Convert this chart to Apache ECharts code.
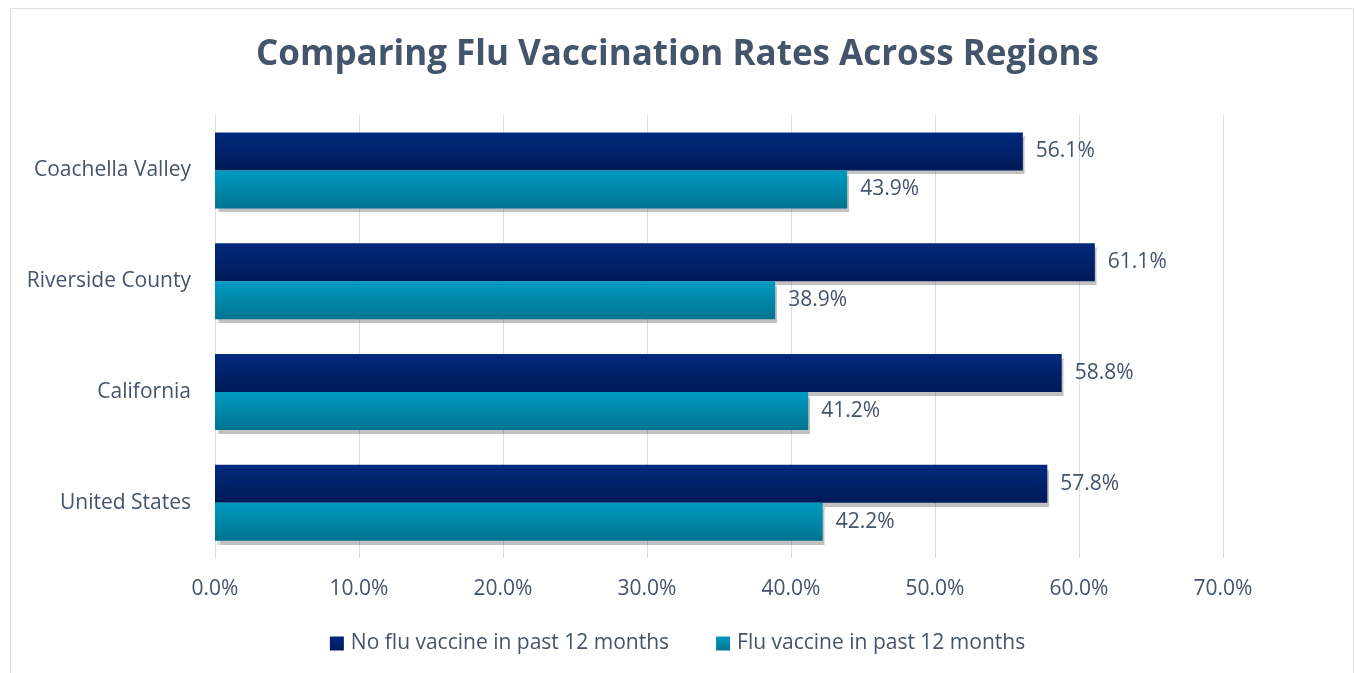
<!DOCTYPE html>
<html>
<head>
<meta charset="utf-8">
<script src="https://cdn.jsdelivr.net/npm/echarts@6/dist/echarts.min.js"></script>
<style>
  html, body { margin: 0; padding: 0; background: #fff; }
  #chart { width: 1355px; height: 673px; }
</style>
</head>
<body>
<div id="chart"></div>
<script>
// 数据
const regions = ['Coachella Valley', 'Riverside County', 'California', 'United States']
const noVaccine = [56.1, 61.1, 58.8, 57.8]
const withVaccine = [43.9, 38.9, 41.2, 42.2]
const seriesNames = ['No flu vaccine in past 12 months', 'Flu vaccine in past 12 months']

const textColor = '#44546a'
const gridColor = '#d9dde5'
const font = '"Open Sans", Lato, sans-serif'

const chart = echarts.init(document.getElementById('chart'))

function grad(top, bottom) {
  return new echarts.graphic.LinearGradient(0, 0, 0, 1, [
    { offset: 0, color: top },
    { offset: 1, color: bottom }
  ])
}

const option = {
  animation: false,
  textStyle: { fontFamily: font },
  title: {
    text: 'Comparing Flu Vaccination Rates Across Regions',
    left: 'center',
    top: 33,
    textStyle: { color: textColor, fontSize: 35, fontWeight: 'bold', fontFamily: font }
  },
  graphic: [
    {
      type: 'rect',
      shape: { x: 10.5, y: 8.5, width: 1343, height: 700 },
      style: { fill: 'none', stroke: '#dcdfe6', lineWidth: 1 },
      silent: true
    }
  ],
  legend: {
    top: 628,
    left: 'center',
    itemWidth: 14,
    itemHeight: 14,
    itemGap: 47,
    icon: 'rect',
    textStyle: { color: textColor, fontSize: 21, fontFamily: font, padding: [0, 0, 0, 2] },
    data: seriesNames
  },
  grid: { left: 215, right: 132, top: 115, bottom: 115 },
  xAxis: {
    type: 'value',
    min: 0,
    max: 70,
    interval: 10,
    axisLine: { show: false },
    axisTick: { show: false },
    splitLine: { lineStyle: { color: gridColor, width: 1 } },
    axisLabel: {
      color: textColor,
      fontSize: 21,
      margin: 21,
      formatter: v => v.toFixed(1) + '%'
    }
  },
  yAxis: {
    type: 'category',
    inverse: true,
    data: regions,
    axisLine: { show: true, lineStyle: { color: gridColor } },
    axisTick: { show: false },
    axisLabel: { color: textColor, fontSize: 21, margin: 24 }
  },
  series: [
    {
      name: seriesNames[0],
      type: 'bar',
      data: noVaccine,
      barWidth: 38,
      barGap: '0%',
      itemStyle: {
        color: grad('#00297c', '#001a58'),
        shadowColor: 'rgba(0,0,0,0.24)',
        shadowOffsetX: 2,
        shadowOffsetY: 4,
        shadowBlur: 1
      },
      label: {
        show: true,
        position: 'right',
        distance: 13,
        color: textColor,
        fontSize: 21,
        formatter: p => p.value.toFixed(1) + '%'
      }
    },
    {
      name: seriesNames[1],
      type: 'bar',
      data: withVaccine,
      barWidth: 38,
      barGap: '0%',
      itemStyle: {
        color: grad('#009bc2', '#007490'),
        shadowColor: 'rgba(0,0,0,0.24)',
        shadowOffsetX: 2,
        shadowOffsetY: 4,
        shadowBlur: 1
      },
      label: {
        show: true,
        position: 'right',
        distance: 13,
        color: textColor,
        fontSize: 21,
        formatter: p => p.value.toFixed(1) + '%'
      }
    }
  ]
}

chart.setOption(option)
</script>
</body>
</html>
